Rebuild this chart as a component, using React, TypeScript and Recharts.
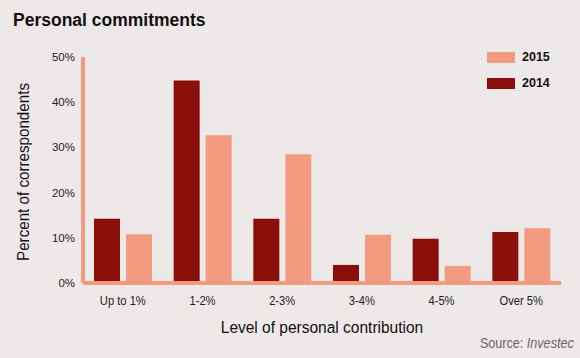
import React from "react";
import { BarChart, Bar, XAxis, YAxis, Label } from "recharts";

const categories = ["Up to 1%", "1-2%", "2-3%", "3-4%", "4-5%", "Over 5%"];
const values2014 = [14.2, 44.8, 14.2, 4.0, 9.8, 11.3];
const values2015 = [10.8, 32.7, 28.5, 10.7, 3.8, 12.1];
const yTicks = [0, 10, 20, 30, 40, 50];
const legendItems = ["2015", "2014"];

const data = categories.map((c, i) => ({ cat: c, y2014: values2014[i], y2015: values2015[i] }));

const FONT = "'Liberation Sans', Arial, sans-serif";
const DARK = "#8A0F0A";
const LIGHT = "#F29B80";
const BG = "#EDE9E8";
const legendColors: Record<string, string> = { "2015": LIGHT, "2014": DARK };

const XTick = (props: any) => {
  const { x, y, payload } = props;
  return (
    <text
      transform={`translate(${x},${y}) scale(0.86,1)`}
      textAnchor="middle"
      dy="0.71em"
      fontSize={13}
      fontFamily={FONT}
      fill="#222"
    >
      {payload.value}
    </text>
  );
};

const XTitle = (props: any) => {
  const vb = props.viewBox || {};
  const cx = vb.x + vb.width / 2;
  const by = vb.y + vb.height + 20;
  return (
    <text transform={`translate(${cx},${by}) scale(0.94,1)`} textAnchor="middle" fontSize={16.5} fontFamily={FONT} fill="#111">
      Level of personal contribution
    </text>
  );
};

const YTitle = (props: any) => {
  const vb = props.viewBox || {};
  const cy = vb.y + vb.height / 2 + 2;
  return (
    <text transform={`translate(29,${cy}) rotate(-90) scale(0.92,1)`} textAnchor="middle" fontSize={16.5} fontFamily={FONT} fill="#111">
      Percent of correspondents
    </text>
  );
};

export default function App() {
  return (
    <div style={{ position: "absolute", left: 0, top: 0, width: 580, height: 358, background: BG, fontFamily: FONT }}>
      <div style={{ position: "absolute", left: 13, top: 10, fontSize: 17.5, fontWeight: "bold", color: "#111", lineHeight: "20px" }}>
        Personal commitments
      </div>
      <div
        style={{
          position: "absolute",
          right: 6,
          top: 334,
          fontSize: 15,
          color: "#666",
          lineHeight: "17px",
          transform: "scaleX(0.84)",
          transformOrigin: "right center",
          whiteSpace: "nowrap",
        }}
      >
        Source: <i>Investec</i>
      </div>
      <div style={{ position: "absolute", left: 487, top: 44, fontWeight: "bold", fontSize: 12.5, color: "#111" }}>
        {legendItems.map((name) => (
          <div key={name} style={{ display: "flex", alignItems: "center", height: 26 }}>
            <div style={{ width: 28, height: 11, background: legendColors[name], marginRight: 7 }} />
            <span>{name}</span>
          </div>
        ))}
      </div>
      <BarChart
        width={580}
        height={358}
        data={data}
        margin={{ top: 57, right: 19, bottom: 45, left: 0 }}
        barGap={6}
        barCategoryGap={11}
        style={{ position: "absolute", left: 0, top: 0 }}
      >
        <XAxis
          dataKey="cat"
          height={30}
          axisLine={{ stroke: LIGHT, strokeWidth: 4 }}
          tickLine={false}
          tickSize={6}
          tickMargin={7}
          tick={<XTick />}
          interval={0}
        >
          <Label content={<XTitle />} />
        </XAxis>
        <YAxis
          width={83}
          domain={[0, 50]}
          ticks={yTicks}
          tickFormatter={(v) => `${v}%`}
          axisLine={{ stroke: LIGHT, strokeWidth: 4 }}
          tickLine={false}
          tickSize={6}
          tickMargin={2}
          tick={{ fill: "#222", fontSize: 11.5, fontFamily: FONT }}
        >
          <Label content={<YTitle />} />
        </YAxis>
        <Bar dataKey="y2014" name="2014" fill={DARK} isAnimationActive={false} />
        <Bar dataKey="y2015" name="2015" fill={LIGHT} isAnimationActive={false} />
      </BarChart>
    </div>
  );
}
